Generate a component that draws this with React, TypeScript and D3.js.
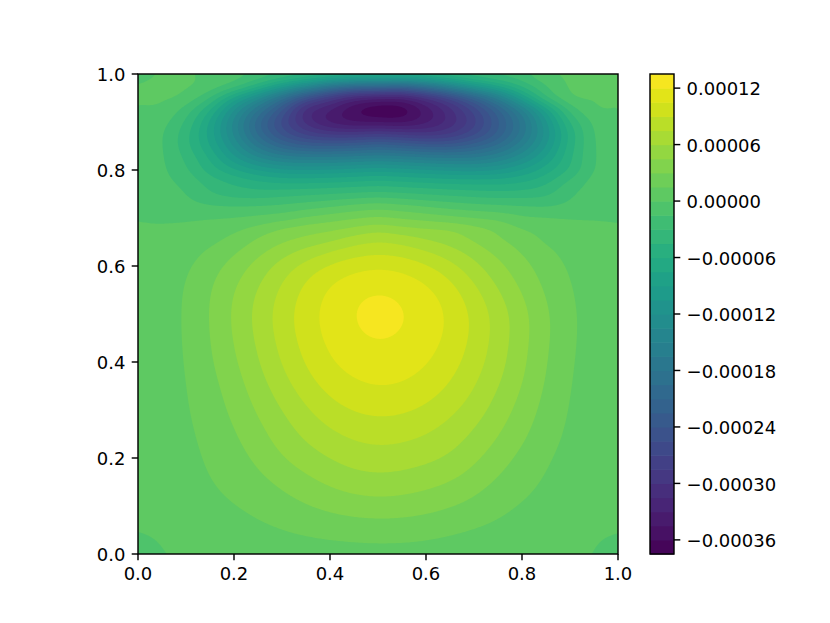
import React, { useMemo } from "react";
import * as d3 from "d3";

// Field values in units of 1e-5. Rows run from y=1 (top) to y=0 (bottom).
const xKnots = [0, .05, .1, .15, .2, .25, .3, .35, .4, .45, .5, .55, .6, .65, .7, .75, .8, .85, .9, .95, 1];
const yKnots = [1, .975, .95, .925, .9, .875, .85, .825, .8, .775, .75, .725, .7, .675, .65, .6, .55, .5, .45, .4, .35, .3, .25, .2, .15, .1, .05, 0];

const r100 = [-.4, .1, .1, -.3, -.8, -1.5, -2, -2.5, -3, -3.2, -3.3, -3.2, -3, -2.8, -2.4, -2, -1.6, -.1, .2, .2, .1];
const r097 = [.05, .2, .15, -.5, -2, -5, -9, -13, -17, -19.5, -20, -20.5, -18, -14, -10, -7, -4, -1.6, .15, .2, .15];
const r095 = [.15, .15, -.5, -3, -8, -13, -19, -25, -29, -32, -33, -33, -30.5, -27, -22, -16, -9, -3, -.3, .1, .05];
const r092 = [-.1, -.4, -2.2, -6, -12, -18, -24, -30.7, -33, -35.8, -37.4, -37, -33.9, -30.5, -26.5, -21.5, -15.5, -8.5, -2.6, -.3, 0];
const r090 = [-.2, -1, -3.3, -7.8, -14, -20.5, -26, -30.5, -33.5, -34.7, -34.8, -35, -33.5, -31, -27.5, -22.8, -17.5, -10.8, -4.5, -1.2, -.2];
const r087 = [-.4, -1.4, -4, -8.2, -13.8, -19.8, -24.5, -27.5, -28.8, -29, -28.5, -29, -29.5, -28.6, -26, -22.2, -17.3, -11.5, -5.6, -1.5, -.4];
const r085 = [-.5, -1.4, -4, -7.5, -12.2, -17, -20.5, -22.3, -22.6, -22.2, -21.5, -22.2, -23, -23, -21.5, -19, -15.2, -10.5, -5.3, -1.6, -.5];
const r082 = [-.6, -1.35, -3.3, -6.2, -10, -13.2, -15.2, -15.8, -15.8, -15.4, -15, -15.4, -16, -16.4, -16.2, -14.8, -12.2, -8.7, -4.8, -1.6, -.6];
const r080 = [-.7, -1.25, -2.8, -5.2, -7.2, -9, -10.1, -10.4, -10.2, -9.8, -9.5, -9.8, -10.3, -10.7, -10.9, -10.3, -8.8, -6.7, -4.3, -1.5, -.7];
const r077 = [-.7, -1.1, -1.95, -3.6, -4.75, -5.6, -6.2, -6.2, -6.05, -5.8, -5.5, -5.8, -6.1, -6.4, -6.5, -6.5, -6, -4.8, -2.6, -1, -.6];
const r075 = [-.6, -.95, -1.5, -2.85, -3.65, -3.9, -3.55, -3.3, -3, -2.7, -2.5, -2.75, -3.1, -3.4, -3.7, -3.9, -3.8, -3.3, -1.7, -.95, -.6];
const r072 = [-.4, -.6, -1, -1.35, -1.5, -1.4, -1.2, -.7, -.2, .4, .8, .4, -.1, -.6, -1, -1.25, -1.45, -1.6, -1.2, -.7, -.4];
const r070 = [0, -.1, -.15, -.1, .05, .35, .85, 1.65, 2.3, 2.85, 3.2, 2.85, 2.4, 1.9, 1.5, 1.1, .3, .1, -.05, -.05, -.05];
const r067 = [.05, .1, .3, .75, 1.25, 2.2, 3.3, 3.95, 4.35, 5, 5.6, 5.1, 4.8, 4.6, 3.7, 2.8, 1.6, 1.05, .6, .25, .05];
const r065 = [.15, .3, .65, 1.15, 2.15, 3.5, 4.45, 5.15, 6, 7.15, 7.75, 7.3, 6.4, 5.6, 4.6, 3.4, 2.55, 1.35, .85, .45, .15];
const r060 = [.2, .65, 1.2, 2.45, 3.7, 5.15, 6.95, 8.5, 9.75, 10.4, 10.75, 10.45, 9.5, 8.2, 6.55, 4.95, 3.55, 2.3, 1.3, .7, .2];
const r055 = [.3, .85, 1.45, 3, 4.45, 6.15, 7.8, 9.45, 10.85, 11.6, 11.9, 11.6, 11.1, 9.8, 8, 6, 4.35, 2.7, 1.5, .8, .3];
const r050 = [.3, .85, 1.5, 3.1, 4.8, 6.6, 8.4, 10, 11.3, 12, 13.5, 12.2, 11.5, 10.4, 8.85, 7.05, 5.2, 3.3, 1.7, .85, .3];
const r045 = [.3, .85, 1.5, 3, 4.55, 6.3, 8.05, 9.7, 10.95, 11.7, 12.05, 11.8, 11.35, 10.2, 8.7, 6.85, 5, 3.25, 1.65, .85, .3];
const r040 = [.35, .85, 1.4, 2.85, 4.25, 5.95, 7.65, 9.25, 10.5, 11.2, 11.5, 11.3, 10.7, 9.7, 8.35, 6.65, 4.9, 3.05, 1.5, .85, .35];
const r035 = [.4, .85, 1.35, 2.45, 3.7, 5.35, 6.85, 8.4, 9.6, 10.25, 10.65, 10.45, 9.9, 8.95, 7.6, 6.05, 4.55, 2.8, 1.4, .8, .35];
const r030 = [.4, .85, 1.3, 2.2, 3.35, 4.7, 6, 7.3, 8.5, 9.2, 9.45, 9.3, 8.8, 7.9, 6.85, 5.35, 3.9, 2.4, 1.3, .75, .35];
const r025 = [.4, .8, 1.2, 1.9, 2.8, 4, 5.25, 6.35, 7.25, 7.8, 8.15, 7.95, 7.55, 6.75, 5.8, 4.6, 3.4, 2.1, 1.2, .7, .35];
const r020 = [.35, .75, 1.1, 1.65, 2.4, 3.25, 4.6, 5.3, 6.1, 6.7, 6.95, 6.75, 6.4, 6, 4.9, 3.65, 2.55, 1.55, 1, .6, .3];
const r015 = [.3, .7, 1.05, 1.4, 1.95, 2.55, 3.2, 4.1, 4.8, 5.35, 5.55, 5.4, 5, 4.5, 3.65, 2.75, 2, 1.3, .9, .55, .25];
const r010 = [.2, .5, .85, 1.15, 1.42, 1.9, 2.4, 2.9, 3.4, 3.8, 3.95, 3.85, 3.55, 3.15, 2.6, 1.9, 1.3, 1, .7, .4, .2];
const r005 = [.05, .25, .5, .7, .9, 1.15, 1.5, 1.75, 1.95, 2.1, 2.2, 2.15, 2, 1.65, 1.35, 1.1, .85, .65, .45, .25, .1];
const r000 = [-1, -.1, .2, .3, .4, .5, .5, .6, .6, .6, .6, .6, .6, .6, .5, .5, .4, .3, .2, -.05, -1];

const rows = [r100, r097, r095, r092, r090, r087, r085, r082, r080, r077, r075, r072, r070, r067,
  r065, r060, r055, r050, r045, r040, r035, r030, r025, r020, r015, r010, r005, r000];

const levelMin = -37.5;
const levelMax = 13.5;
const levelStep = 1.5;
const xTicks = [0, .2, .4, .6, .8, 1];
const yTicks = [0, .2, .4, .6, .8, 1];
const barTicks = [-36, -30, -24, -18, -12, -6, 0, 6, 12];

const W = 830, H = 623;
const plot = { left: 138, right: 618, top: 74, bottom: 554 };
const bar = { left: 650, right: 674 };
const FONT = "'DejaVu Sans', sans-serif";
const TICK = 6.3, PAD = 6.3, LW = 1.44;

function tangents(xs: number[], ys: number[]) {
  return xs.map((_, i) => {
    if (i === 0) return (ys[1] - ys[0]) / (xs[1] - xs[0]);
    if (i === xs.length - 1) return (ys[i] - ys[i - 1]) / (xs[i] - xs[i - 1]);
    return (ys[i + 1] - ys[i - 1]) / (xs[i + 1] - xs[i - 1]);
  });
}
function hermite(xs: number[], ys: number[], ms: number[], x: number) {
  const i = Math.min(xs.length - 2, Math.max(0, d3.bisectRight(xs, x) - 1));
  const h = xs[i + 1] - xs[i];
  const t = (x - xs[i]) / h;
  const t2 = t * t, t3 = t2 * t;
  return (2 * t3 - 3 * t2 + 1) * ys[i] + (t3 - 2 * t2 + t) * h * ms[i] + (-2 * t3 + 3 * t2) * ys[i + 1] + (t3 - t2) * h * ms[i + 1];
}

function buildBands() {
  const n = 320;
  const ascY = yKnots.slice().reverse();
  const ascRows = rows.slice().reverse();
  const fineX = d3.range(n).map((i) => i / (n - 1));
  const fineY = d3.range(n).map((j) => 1 - j / (n - 1));
  const across = ascRows.map((r) => {
    const ms = tangents(xKnots, r);
    return fineX.map((x) => hermite(xKnots, r, ms, x));
  });
  const flat = new Float64Array(n * n);
  for (let i = 0; i < n; i++) {
    const col = across.map((r) => r[i]);
    const ms = tangents(ascY, col);
    for (let j = 0; j < n; j++) flat[j * n + i] = hermite(ascY, col, ms, fineY[j]);
  }
  // Smooth the hand-read table so that the contour lines lose its grid wobble:
  // strongly in the broad lower lobe, lightly near the steep lid, not in the corners.
  const light = Float64Array.from(flat);
  d3.blur2({ data: light, width: n, height: n }, 3);
  const strong = Float64Array.from(flat);
  d3.blur2({ data: strong, width: n, height: n }, 10);
  const smooth = (a: number, b: number, v: number) => {
    const t = Math.max(0, Math.min(1, (v - a) / (b - a)));
    return t * t * (3 - 2 * t);
  };
  const out = new Float64Array(n * n);
  for (let j = 0; j < n; j++) {
    for (let i = 0; i < n; i++) {
      const xv = fineX[i], yv = fineY[j];
      const cornerDist = Math.min(
        Math.hypot(xv, yv), Math.hypot(1 - xv, yv), Math.hypot(xv, 1 - yv), Math.hypot(1 - xv, 1 - yv));
      const cornerKeep = smooth(0.05, 0.14, cornerDist);
      const low = 1 - smooth(0.62, 0.68, yv);
      const v = light[j * n + i] * (1 - low) + strong[j * n + i] * low;
      out[j * n + i] = flat[j * n + i] * (1 - cornerKeep) + v * cornerKeep;
    }
  }
  const levels = d3.range(levelMin, levelMax - 0.01, levelStep);
  const contours = d3.contours().size([n, n]).smooth(true).thresholds(levels)(Array.from(out));
  const sx = d3.scaleLinear().domain([0.5, n - 0.5]).range([plot.left, plot.right]);
  const sy = d3.scaleLinear().domain([0.5, n - 0.5]).range([plot.top, plot.bottom]);
  const path = d3.geoPath(d3.geoTransform({
    point(x: number, y: number) { (this as any).stream.point(sx(x), sy(y)); },
  }));
  return contours.map((c) => ({ level: c.value, d: path(c as any) || "" }));
}

const bandColor = (low: number) =>
  d3.interpolateViridis((low + levelStep / 2 - levelMin) / (levelMax - levelMin));

const fmtBar = (v: number) => {
  const s = (Math.abs(v) / 1e5).toFixed(5);
  return (v < 0 ? "\u2212" : "") + s;
};

export default function App() {
  const x = d3.scaleLinear().domain([0, 1]).range([plot.left, plot.right]);
  const y = d3.scaleLinear().domain([0, 1]).range([plot.bottom, plot.top]);
  const c = d3.scaleLinear().domain([levelMin, levelMax]).range([plot.bottom, plot.top]);
  const bands = useMemo(buildBands, []);
  const barLevels = d3.range(levelMin, levelMax - 0.01, levelStep);
  return (
    <svg width={W} height={H} viewBox={`0 0 ${W} ${H}`}
      style={{ position: "absolute", left: 0, top: 0, background: "#fff", fontFamily: FONT }}>
      <defs>
        <clipPath id="plotClip">
          <rect x={plot.left} y={plot.top} width={plot.right - plot.left} height={plot.bottom - plot.top} />
        </clipPath>
      </defs>
      <g clipPath="url(#plotClip)">
        <rect x={plot.left} y={plot.top} width={plot.right - plot.left} height={plot.bottom - plot.top} fill={bandColor(levelMin)} />
        {bands.map((b) => <path key={b.level} d={b.d} fill={bandColor(b.level)} />)}
      </g>
      <rect x={plot.left} y={plot.top} width={plot.right - plot.left} height={plot.bottom - plot.top}
        fill="none" stroke="#000" strokeWidth={LW} />
      {xTicks.map((t) => (
        <g key={t}>
          <line x1={x(t)} x2={x(t)} y1={plot.bottom} y2={plot.bottom + TICK} stroke="#000" strokeWidth={LW} />
          <text x={x(t)} y={plot.bottom + TICK + PAD + 13.2} fontSize={18} textAnchor="middle" fill="#000">{t.toFixed(1)}</text>
        </g>
      ))}
      {yTicks.map((t) => (
        <g key={t}>
          <line x1={plot.left - TICK} x2={plot.left} y1={y(t)} y2={y(t)} stroke="#000" strokeWidth={LW} />
          <text x={plot.left - TICK - PAD} y={y(t) + 7.2} fontSize={18} textAnchor="end" fill="#000">{t.toFixed(1)}</text>
        </g>
      ))}
      {barLevels.map((l) => (
        <rect key={l} x={bar.left} width={bar.right - bar.left} y={c(l + levelStep)} height={c(l) - c(l + levelStep) + 0.6} fill={bandColor(l)} />
      ))}
      <rect x={bar.left} y={plot.top} width={bar.right - bar.left} height={plot.bottom - plot.top}
        fill="none" stroke="#000" strokeWidth={LW} />
      {barTicks.map((t) => (
        <g key={t}>
          <line x1={bar.right} x2={bar.right + TICK} y1={c(t)} y2={c(t)} stroke="#000" strokeWidth={LW} />
          <text x={bar.right + TICK + PAD} y={c(t) + 7.2} fontSize={18} fill="#000">{fmtBar(t)}</text>
        </g>
      ))}
    </svg>
  );
}
